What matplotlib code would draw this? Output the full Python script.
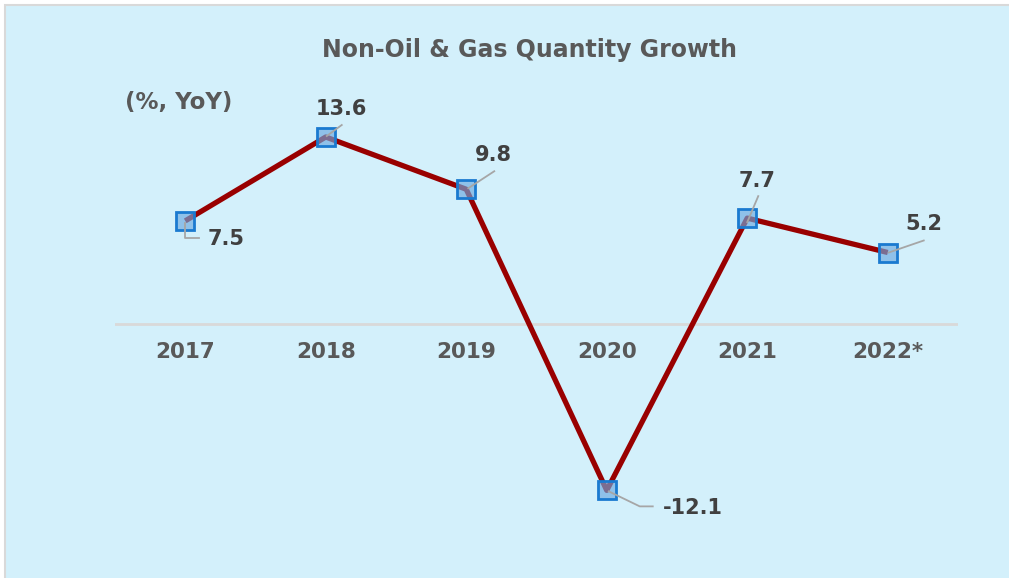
import numpy as np
import matplotlib
matplotlib.use('Agg')
import matplotlib.pyplot as plt
from matplotlib.patches import Rectangle


# data
years = ['2017', '2018', '2019', '2020', '2021', '2022*']
growth = [7.5, 13.6, 9.8, -12.1, 7.7, 5.2]

# label placement: leader line points and text anchor, in pixel offsets from the marker
label_leaders = [
    [(0, -2), (0, -17), (14, -17)],
    [(1, 1), (16, 12)],
    [(2, 1), (28, 18)],
    [(2, -1), (33, -16), (46, -16)],
    [(0, -4), (11, 22)],
    [(1, 0), (36, 12)],
]
label_text_pos = [(22, -18, 'left'), (16, 28, 'center'), (27, 34, 'center'),
                  (56, -18, 'left'), (10, 37, 'center'), (36, 28, 'center')]

bg = '#D3F0FB'
W, H = 1009, 578

fig = plt.figure(figsize=(W / 100, H / 100), dpi=100)
fig.patch.set_facecolor('white')
fig.add_artist(Rectangle((5 / W, -0.01), 1, 1.01 - 5 / H, transform=fig.transFigure,
                         facecolor=bg, edgecolor='#D9D9D9', linewidth=1.5, zorder=-10))

# axes placed so that the zero line sits where it is in the reference
x0, x1 = 115, 958
ytop, ybot = 90.25, 544
ax = fig.add_axes([x0 / W, (H - ybot) / H, (x1 - x0) / W, (ybot - ytop) / H])
ax.set_facecolor('none')
ax.set_xlim(-0.5, len(years) - 0.5)
ax.set_ylim(-16, 17)
for s in ax.spines.values():
    s.set_visible(False)
ax.set_xticks([])
ax.set_yticks([])

ax.axhline(0, color='#D9D9D9', linewidth=2, zorder=1)

x = np.arange(len(years))
ax.plot(x, growth, color='#990000', linewidth=3.8, solid_capstyle='butt', zorder=2)
ax.plot(x, growth, linestyle='none', marker='s', markersize=12.5,
        markerfacecolor=(0.42, 0.66, 0.88, 0.65), markeredgecolor='#1A7AD0',
        markeredgewidth=2, zorder=3)

# year labels below the zero line
for i, yr in enumerate(years):
    ax.annotate(yr, (i, 0), xytext=(0, -28), textcoords='offset pixels',
                ha='center', va='center', fontsize=15.5, fontweight='bold',
                color='#595959', family='DejaVu Sans')

# data labels with leader lines
for i, v in enumerate(growth):
    px, py = ax.transData.transform((i, v))
    pts = np.array([(px + dx, py + dy) for dx, dy in label_leaders[i]])
    ax.plot(pts[:, 0], pts[:, 1], color='#A6A6A6', linewidth=1.3,
            transform=None, zorder=4)
    tx, ty, ha = label_text_pos[i]
    ax.annotate(f'{v:.1f}', (i, v), xytext=(tx, ty), textcoords='offset pixels',
                ha=ha, va='center', fontsize=15, fontweight='bold',
                color='#404040', family='DejaVu Sans', zorder=5)

fig.text(530 / W, 1 - 50 / H, 'Non-Oil & Gas Quantity Growth', ha='center', va='center',
         fontsize=17, fontweight='bold', color='#595959', family='DejaVu Sans')
fig.text(125 / W, 1 - 102 / H, '(%, YoY)', ha='left', va='center',
         fontsize=16.5, fontweight='bold', color='#595959', family='DejaVu Sans')

fig.savefig('out.png', dpi=100, facecolor=fig.get_facecolor())
